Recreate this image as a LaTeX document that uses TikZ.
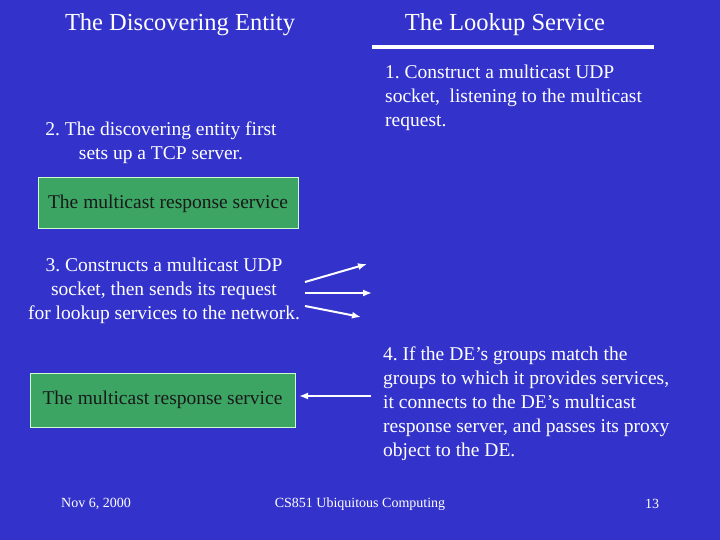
\documentclass[tikz,border=0pt]{standalone}
\usepackage{fontspec}
\usetikzlibrary{arrows.meta}
\setmainfont{Liberation Serif}
\frenchspacing
\begin{document}
\begin{tikzpicture}[x=1pt,y=-1pt,
  txt/.style={text=white,font=\fontsize{19.5}{24}\selectfont,inner sep=0},
  ttl/.style={text=white,font=\fontsize{24.5}{28}\selectfont,inner sep=0},
  foot/.style={text=white,font=\fontsize{14}{16}\selectfont,inner sep=0},
  gbox/.style={draw=white!80!green,fill={rgb,255:red,60;green,165;blue,100},line width=1pt,text=black!90,font=\fontsize{19.5}{22}\selectfont,inner sep=0},
  arr/.style={draw=white,line width=2pt,-{Latex[length=9pt,width=7pt]}}]
\fill[fill={rgb,255:red,51;green,51;blue,204}] (0,0) rectangle (720,540);
\useasboundingbox (0,0) rectangle (720,540);
\node[ttl] (t1) at (180,25) {The Discovering Entity};
\node[ttl] (t2) at (505,25) {The Lookup Service};
\coordinate (l1) at (372,47); \coordinate (l2) at (654,47);
\draw[white,line width=3.5pt] (l1) -- (l2);
\node[txt,align=left,anchor=north west] (s1) at (385,65) {1. Construct a multicast UDP\\socket,\ \ listening to the multicast\\request.};
\node[txt,align=center] (s2) at (161,143) {2. The discovering entity first\\sets up a TCP server.};
\node[gbox,minimum width=260,minimum height=51] (b1) at (168,203.5) {The multicast response service};
\node[txt,align=center] (s3) at (164,291) {3. Constructs a multicast UDP\\socket, then sends its request\\for lookup services to the network.};
\coordinate (a1s) at (305,282); \coordinate (a1e) at (367,264);
\coordinate (a2s) at (305,293); \coordinate (a2e) at (372,293);
\coordinate (a3s) at (305,306); \coordinate (a3e) at (361,317);
\draw[arr] (a1s) -- (a1e);
\draw[arr] (a2s) -- (a2e);
\draw[arr] (a3s) -- (a3e);
\node[txt,align=left,anchor=north west] (s4) at (383,347) {4. If the DE’s groups match the\\groups to which it provides services,\\it connects to the DE’s multicast\\response server, and passes its proxy\\object to the DE.};
\node[gbox,minimum width=265,minimum height=54] (b2) at (162.5,400) {The multicast response service};
\coordinate (a4s) at (371,396); \coordinate (a4e) at (299,396);
\draw[arr] (a4s) -- (a4e);
\node[foot] (f1) at (96,504) {Nov 6, 2000};
\node[foot] (f2) at (360,504) {CS851 Ubiquitous Computing};
\node[foot] (f3) at (652,504) {13};
\end{tikzpicture}
\end{document}
